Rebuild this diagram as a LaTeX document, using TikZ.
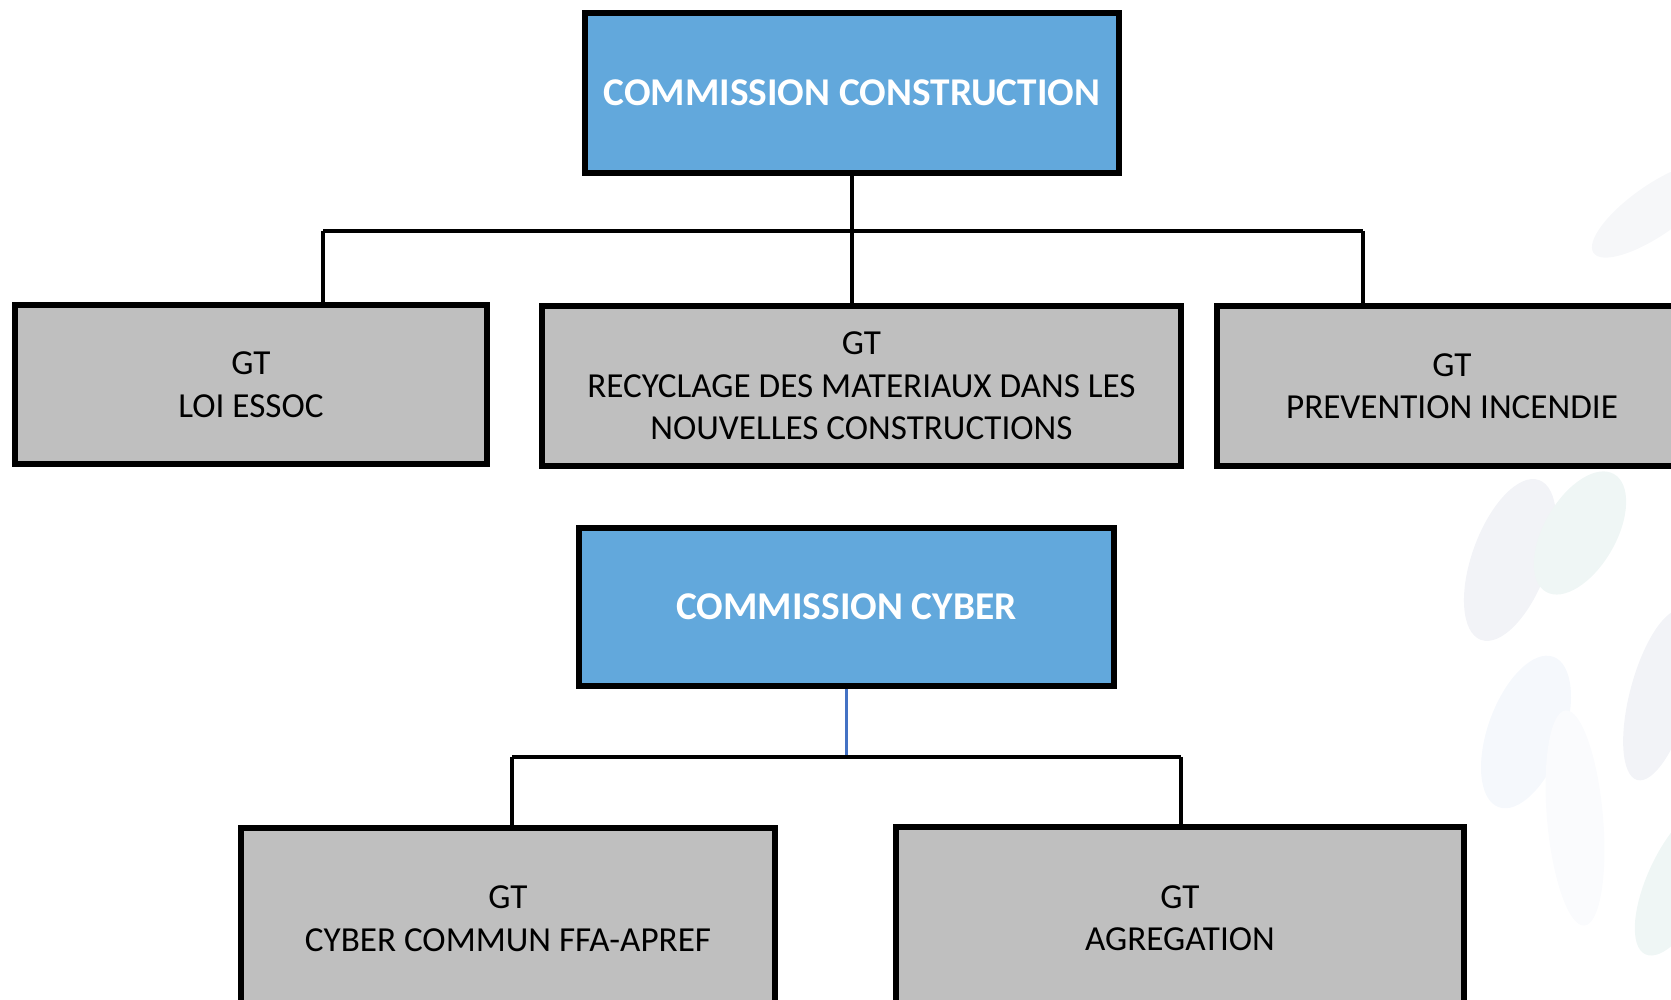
\documentclass[tikz,border=0pt]{standalone}
\usepackage{fontspec}
\setmainfont{Carlito}
\definecolor{commblue}{RGB}{98,168,220}
\definecolor{gtgray}{RGB}{191,191,191}
\definecolor{linkblue}{RGB}{68,114,196}
\definecolor{leafgray}{RGB}{242,243,247}
\definecolor{leafgreen}{RGB}{239,246,245}
\definecolor{leafpale}{RGB}{245,248,252}
\tikzset{
  commbox/.style={rectangle, draw, line width=1.5pt, fill=commblue, text=white,
    inner sep=0pt, font=\fontsize{11.2}{13}\selectfont\bfseries},
  gtbox/.style={rectangle, draw, line width=1.5pt, fill=gtgray, align=center,
    inner sep=0pt, font=\fontsize{10}{12.1}\selectfont},
  link/.style={line width=1.25pt},
  leaf/.style={draw=none}
}
\begin{document}
\begin{tikzpicture}
    \useasboundingbox (0, 0) rectangle (16.71, 10);
    \clip (0, 0) rectangle (16.71, 10);
    % faint leaves in the background
    \fill[leaf, leafgray, rotate around={-20:(15.10, 4.40)}] (15.10, 4.40) ellipse (0.38 and 0.85);
    \fill[leaf, leafgreen, rotate around={-30:(15.80, 4.67)}] (15.80, 4.67) ellipse (0.36 and 0.68);
    \fill[leaf, leafpale, rotate around={-20:(15.26, 2.68)}] (15.26, 2.68) ellipse (0.38 and 0.80);
    \fill[leaf, leafpale!50!white, rotate around={5:(15.75, 1.82)}] (15.75, 1.82) ellipse (0.28 and 1.08);
    \fill[leaf, leafgray, rotate around={-15:(16.60, 3.05)}] (16.60, 3.05) ellipse (0.30 and 0.88);
    \fill[leaf, leafgreen, rotate around={-25:(16.80, 1.20)}] (16.80, 1.20) ellipse (0.32 and 0.82);
    \fill[leaf, leafgray!70!white, rotate around={-55:(16.55, 7.90)}] (16.55, 7.90) ellipse (0.25 and 0.75);

    % commission construction
    \node[commbox, minimum width=5.34cm, minimum height=1.60cm] (cc) at (8.52, 9.07) {COMMISSION CONSTRUCTION};
    \node[gtbox, minimum width=4.72cm, minimum height=1.59cm] (loi) at (2.51, 6.155) {GT\\LOI ESSOC};
    \node[gtbox, minimum width=6.39cm, minimum height=1.60cm] (recy) at (8.615, 6.14) {GT\\RECYCLAGE DES MATERIAUX DANS LES\\NOUVELLES CONSTRUCTIONS};
    \node[gtbox, minimum width=4.70cm, minimum height=1.60cm] (prev) at (14.52, 6.14) {GT\\PREVENTION INCENDIE};
    \coordinate (ccL) at (3.23, 7.69);
    \coordinate (ccR) at (13.63, 7.69);
    \draw[link] (cc.south) -- (cc.south |- recy.north);
    \draw[link] (ccL) -- (ccR);
    \draw[link] (ccL) -- (ccL |- loi.north);
    \draw[link] (ccR) -- (ccR |- prev.north);

    % commission cyber
    \node[commbox, minimum width=5.35cm, minimum height=1.58cm] (cy) at (8.465, 3.93) {COMMISSION CYBER};
    \node[gtbox, minimum width=5.34cm, minimum height=1.82cm] (ffa) at (5.08, 0.81) {GT\\CYBER COMMUN FFA-APREF};
    \node[gtbox, minimum width=5.68cm, minimum height=1.82cm] (agr) at (11.80, 0.82) {GT\\AGREGATION};
    \coordinate (cyL) at (5.12, 2.43);
    \coordinate (cyR) at (11.81, 2.43);
    \draw[link, linkblue, line width=1.1pt] (cy.south) -- (cy.south |- cyL);
    \draw[link] (cyL) -- (cyR);
    \draw[link] (cyL) -- (cyL |- ffa.north);
    \draw[link] (cyR) -- (cyR |- agr.north);
\end{tikzpicture}
\end{document}
